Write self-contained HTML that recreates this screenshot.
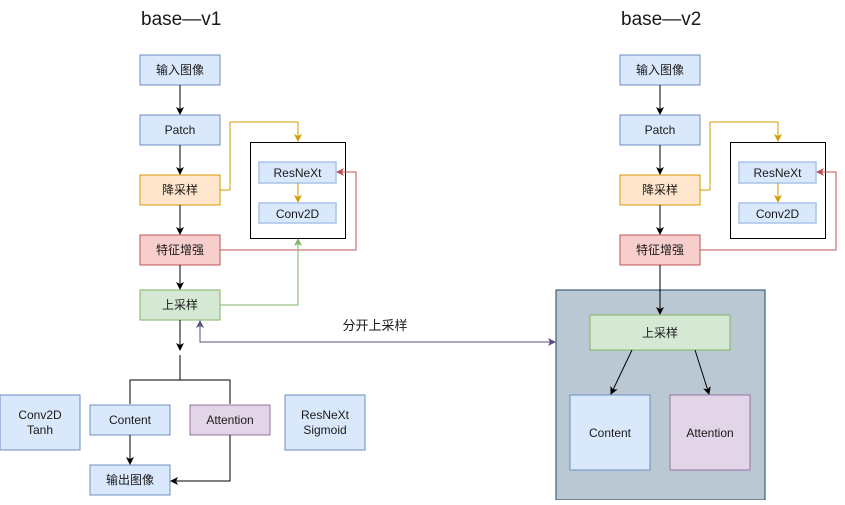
<!DOCTYPE html>
<html><head><meta charset="utf-8"><style>
html,body{margin:0;padding:0;background:#fff;}
text{font-family:"Liberation Sans","Noto Sans CJK SC",sans-serif;font-size:12px;fill:#1a1a1a;}
</style></head><body>
<svg width="845" height="500" viewBox="0 0 845 500" xmlns="http://www.w3.org/2000/svg">
<defs>
<marker id="ak" markerWidth="8" markerHeight="8" refX="7" refY="4" orient="auto" markerUnits="userSpaceOnUse"><path d="M0,0 L8,4 L0,8 L2,4z" fill="#000"/></marker>
<marker id="ao" markerWidth="8" markerHeight="8" refX="7" refY="4" orient="auto" markerUnits="userSpaceOnUse"><path d="M0,0 L8,4 L0,8 L2,4z" fill="#d79b00"/></marker>
<marker id="ar" markerWidth="8" markerHeight="8" refX="7" refY="4" orient="auto" markerUnits="userSpaceOnUse"><path d="M0,0 L8,4 L0,8 L2,4z" fill="#b85450"/></marker>
<marker id="ag" markerWidth="8" markerHeight="8" refX="7" refY="4" orient="auto" markerUnits="userSpaceOnUse"><path d="M0,0 L8,4 L0,8 L2,4z" fill="#82b366"/></marker>
<marker id="ap" markerWidth="8" markerHeight="8" refX="7" refY="4" orient="auto-start-reverse" markerUnits="userSpaceOnUse"><path d="M0,0 L8,4 L0,8 L2,4z" fill="#56517e"/></marker>
</defs>

<text x="141" y="25" style="font-size:19px">base—v1</text>
<text x="621" y="25" style="font-size:19px">base—v2</text>

<g>
<rect x="140" y="55" width="80" height="30" fill="#dae8fc" stroke="#6c8ebf"/>
<text x="180" y="74" text-anchor="middle">输入图像</text>
<rect x="140" y="115" width="80" height="30" fill="#dae8fc" stroke="#6c8ebf"/>
<text x="180" y="134" text-anchor="middle">Patch</text>
<rect x="140" y="175" width="80" height="30" fill="#ffe6cc" stroke="#d79b00"/>
<text x="180" y="194" text-anchor="middle">降采样</text>
<rect x="140" y="235" width="80" height="30" fill="#f8cecc" stroke="#b85450"/>
<text x="180" y="254" text-anchor="middle">特征增强</text>
<rect x="140" y="290" width="80" height="30" fill="#d5e8d4" stroke="#82b366"/>
<text x="180" y="309" text-anchor="middle">上采样</text>
<line x1="180" y1="85" x2="180" y2="114" stroke="#000" marker-end="url(#ak)"/>
<line x1="180" y1="145" x2="180" y2="174" stroke="#000" marker-end="url(#ak)"/>
<line x1="180" y1="205" x2="180" y2="234" stroke="#000" marker-end="url(#ak)"/>
<line x1="180" y1="265" x2="180" y2="289" stroke="#000" marker-end="url(#ak)"/>
<line x1="180" y1="320" x2="180" y2="350" stroke="#000" marker-end="url(#ak)"/>

<rect x="250.5" y="142.5" width="95" height="96" fill="#fff" stroke="#000"/>
<rect x="259" y="162" width="77" height="21" fill="#dae8fc" stroke="#a9c4eb" stroke-width="1.5"/>
<text x="297.5" y="177" text-anchor="middle">ResNeXt</text>
<rect x="259" y="203" width="77" height="20" fill="#dae8fc" stroke="#a9c4eb" stroke-width="1.5"/>
<text x="297.5" y="218" text-anchor="middle">Conv2D</text>
<line x1="298" y1="183" x2="298" y2="202" stroke="#d79b00" marker-end="url(#ao)"/>

<polyline points="220,190 230,190 230,122 298,122 298,141" fill="none" stroke="#d79b00" marker-end="url(#ao)"/>
<polyline points="220,250 356,250 356,172 337,172" fill="none" stroke="#b85450" marker-end="url(#ar)"/>
<polyline points="220,305 298,305 298,239" fill="none" stroke="#82b366" marker-end="url(#ag)"/>

<polyline points="200,321 200,342 555,342" fill="none" stroke="#56517e" marker-start="url(#ap)" marker-end="url(#ap)"/>
<text x="375" y="330" text-anchor="middle" style="font-size:13px">分开上采样</text>

<polyline points="130,404 130,380 230,380 230,404" fill="none" stroke="#000"/>
<line x1="180" y1="355" x2="180" y2="380" stroke="#000"/>

<rect x="0" y="395" width="80" height="55" fill="#dae8fc" stroke="#6c8ebf"/>
<text x="40" y="419" text-anchor="middle">Conv2D</text>
<text x="40" y="434" text-anchor="middle">Tanh</text>
<rect x="90" y="405" width="80" height="30" fill="#dae8fc" stroke="#6c8ebf"/>
<text x="130" y="424" text-anchor="middle">Content</text>
<rect x="190" y="405" width="80" height="30" fill="#e1d5e7" stroke="#9673a6"/>
<text x="230" y="424" text-anchor="middle">Attention</text>
<rect x="285" y="395" width="80" height="55" fill="#dae8fc" stroke="#6c8ebf"/>
<text x="325" y="419" text-anchor="middle">ResNeXt</text>
<text x="325" y="434" text-anchor="middle">Sigmoid</text>
<rect x="90" y="465" width="80" height="30" fill="#dae8fc" stroke="#6c8ebf"/>
<text x="130" y="484" text-anchor="middle">输出图像</text>
<line x1="130" y1="435" x2="130" y2="464" stroke="#000" marker-end="url(#ak)"/>
<polyline points="230,435 230,481 171,481" fill="none" stroke="#000" marker-end="url(#ak)"/>
</g>

<g transform="translate(480,0)">
<rect x="140" y="55" width="80" height="30" fill="#dae8fc" stroke="#6c8ebf"/>
<text x="180" y="74" text-anchor="middle">输入图像</text>
<rect x="140" y="115" width="80" height="30" fill="#dae8fc" stroke="#6c8ebf"/>
<text x="180" y="134" text-anchor="middle">Patch</text>
<rect x="140" y="175" width="80" height="30" fill="#ffe6cc" stroke="#d79b00"/>
<text x="180" y="194" text-anchor="middle">降采样</text>
<rect x="140" y="235" width="80" height="30" fill="#f8cecc" stroke="#b85450"/>
<text x="180" y="254" text-anchor="middle">特征增强</text>
<line x1="180" y1="85" x2="180" y2="114" stroke="#000" marker-end="url(#ak)"/>
<line x1="180" y1="145" x2="180" y2="174" stroke="#000" marker-end="url(#ak)"/>
<line x1="180" y1="205" x2="180" y2="234" stroke="#000" marker-end="url(#ak)"/>

<rect x="250.5" y="142.5" width="95" height="96" fill="#fff" stroke="#000"/>
<rect x="259" y="162" width="77" height="21" fill="#dae8fc" stroke="#a9c4eb" stroke-width="1.5"/>
<text x="297.5" y="177" text-anchor="middle">ResNeXt</text>
<rect x="259" y="203" width="77" height="20" fill="#dae8fc" stroke="#a9c4eb" stroke-width="1.5"/>
<text x="297.5" y="218" text-anchor="middle">Conv2D</text>
<line x1="298" y1="183" x2="298" y2="202" stroke="#d79b00" marker-end="url(#ao)"/>
<polyline points="220,190 230,190 230,122 298,122 298,141" fill="none" stroke="#d79b00" marker-end="url(#ao)"/>
<polyline points="220,250 356,250 356,172 337,172" fill="none" stroke="#b85450" marker-end="url(#ar)"/>
</g>

<rect x="556" y="290" width="209" height="210" fill="#bac8d3" stroke="#23445d"/>
<line x1="660" y1="265" x2="660" y2="314" stroke="#000" marker-end="url(#ak)"/>
<rect x="590" y="315" width="140" height="35" fill="#d5e8d4" stroke="#82b366"/>
<text x="660" y="337" text-anchor="middle">上采样</text>
<rect x="570" y="395" width="80" height="75" fill="#dae8fc" stroke="#6c8ebf"/>
<text x="610" y="437" text-anchor="middle">Content</text>
<rect x="670" y="395" width="80" height="75" fill="#e1d5e7" stroke="#9673a6"/>
<text x="710" y="437" text-anchor="middle">Attention</text>
<line x1="632" y1="350" x2="611" y2="394" stroke="#000" marker-end="url(#ak)"/>
<line x1="695" y1="350" x2="709" y2="394" stroke="#000" marker-end="url(#ak)"/>
</svg>
</body></html>
